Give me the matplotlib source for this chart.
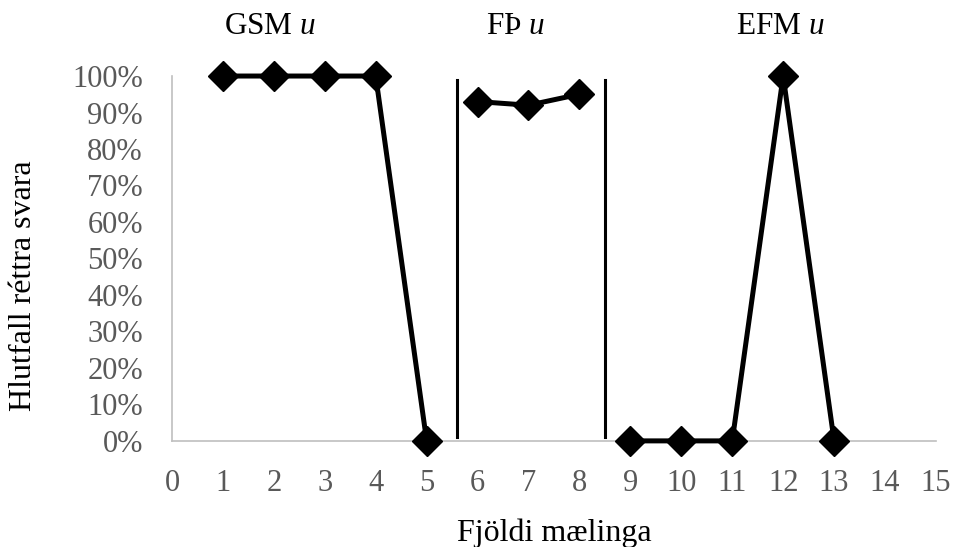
import matplotlib.pyplot as plt
from matplotlib.ticker import PercentFormatter

# Gögn lesin af myndinni
x_gsm = [1, 2, 3, 4, 5]
y_gsm = [100, 100, 100, 100, 0]
x_fth = [6, 7, 8]
y_fth = [93, 92, 95]
x_efm = [9, 10, 11, 12, 13]
y_efm = [0, 0, 0, 100, 0]

skil = [5.6, 8.5]
hopar = ['GSM', 'FÞ', 'EFM']
hopar_x = [1.93, 6.75, 11.95]

plt.rcParams['font.family'] = ['Liberation Serif', 'DejaVu Serif']
plt.rcParams['mathtext.fontset'] = 'custom'
plt.rcParams['mathtext.rm'] = 'Liberation Serif'
plt.rcParams['mathtext.it'] = 'Liberation Serif:italic'

fig = plt.figure(figsize=(9.58, 5.47), dpi=100)
ax = fig.add_axes([0.1795, 0.194, 0.7975, 0.667])

for xs, ys in [(x_gsm, y_gsm), (x_fth, y_fth), (x_efm, y_efm)]:
    ax.plot(xs, ys, color='black', lw=3.6, marker='D', ms=15.5,
            clip_on=False, zorder=3)

for s in skil:
    ax.axvline(s, ymin=0.01, ymax=0.99, color='black', lw=2.2)

ax.set_xlim(0, 15)
ax.set_ylim(0, 100)
ax.set_xticks(range(0, 16))
ax.set_yticks(range(0, 101, 10))
ax.yaxis.set_major_formatter(PercentFormatter(decimals=0))
ax.tick_params(length=0, labelsize=22, labelcolor='#595959')
ax.tick_params(axis='y', pad=21)
ax.tick_params(axis='x', pad=20)

for side in ['top', 'right']:
    ax.spines[side].set_visible(False)
for side in ['left', 'bottom']:
    ax.spines[side].set_color('#bfbfbf')
    ax.spines[side].set_linewidth(1.2)

for h, hx in zip(hopar, hopar_x):
    ax.text(hx, 1.135, h + ' $\\mathit{u}$', transform=ax.get_xaxis_transform(),
            ha='center', va='center', fontsize=22.5)

fig.text(0.5 * (0.1795 + 0.977), 0.011, 'Fjöldi mælinga', fontsize=23,
         ha='center', va='baseline')
fig.text(24 / 958, 0.477, 'Hlutfall réttra svara', fontsize=23,
         ha='center', va='center', rotation=90)

fig.savefig('out.png', dpi=100)
